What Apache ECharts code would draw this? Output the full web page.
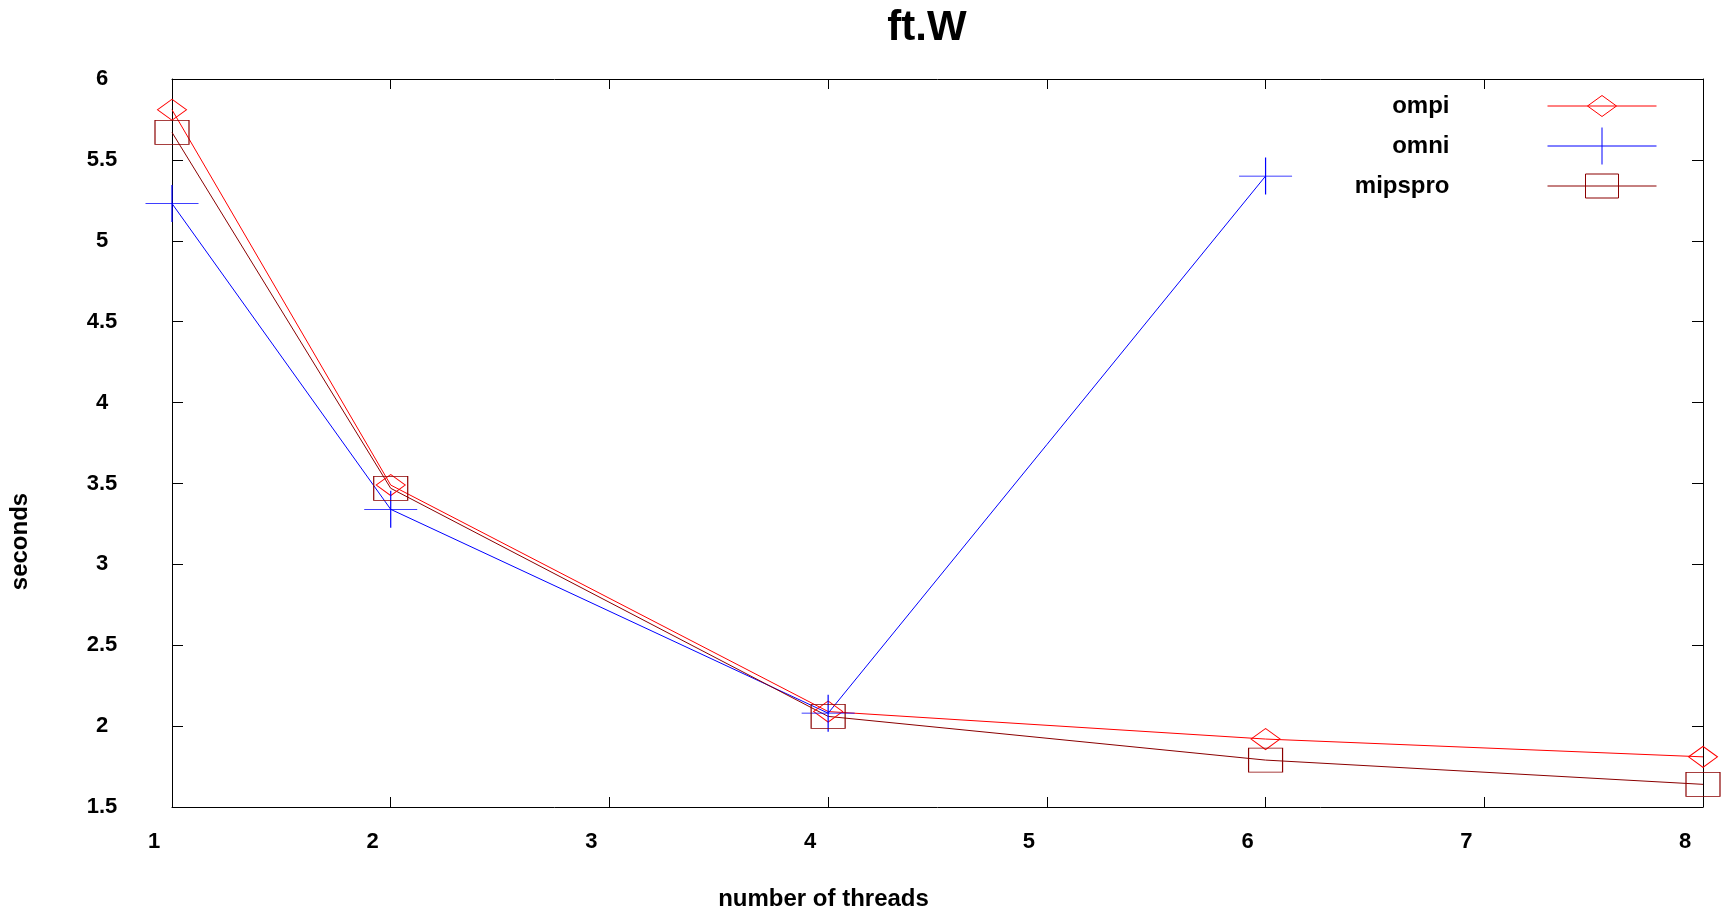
<!DOCTYPE html>
<html>
<head>
<meta charset="utf-8">
<script src="https://cdn.jsdelivr.net/npm/echarts@6/dist/echarts.min.js"></script>
<style>
html,body{margin:0;padding:0;background:#fff;}
#chart{width:1731px;height:916px;}
</style>
</head>
<body>
<div id="chart"></div>
<script>
// ---- data ----
const threads = [1, 2, 4, 6, 8];
const ompi = [5.81, 3.49, 2.09, 1.92, 1.81];
const omniThreads = [1, 2, 4, 6];
const omni = [5.23, 3.34, 2.08, 5.40];
const mipspro = [5.67, 3.47, 2.06, 1.79, 1.64];
const seriesNames = ['ompi', 'omni', 'mipspro'];
const titleText = 'ft.W';
const xName = 'number of threads';
const yName = 'seconds';

const FONT = 'Liberation Sans';
const pair = (xs, ys) => xs.map((x, i) => [x, ys[i]]);

const colors = { ompi: '#ff0000', omni: '#0000ff', mipspro: '#8b0000' };
const plusPath = 'path://M0,5L10,5M5,0L5,10';

const legendIcons = {
  ompi: 'path://M0,18.5L109,18.5M40,18.5L54.5,8L69,18.5L54.5,29ZM0,0M109,37',
  omni: 'path://M0,18.5L109,18.5M54.5,0L54.5,37',
  mipspro: 'path://M0,18.5L109,18.5M38,6.5L71,6.5L71,30.5L38,30.5ZM0,0M109,37'
};

function mkSeries(name, data, symbol, size) {
  return {
    name: name,
    type: 'line',
    data: data,
    clip: false,
    symbol: symbol,
    symbolSize: size,
    symbolKeepAspect: false,
    showAllSymbol: true,
    lineStyle: { color: colors[name], width: 1 },
    itemStyle: { color: 'transparent', borderColor: colors[name], borderWidth: 1 },
    emphasis: { disabled: true },
    silent: true
  };
}

const axisLineStyle = { show: true, lineStyle: { color: '#000', width: 1 } };

const option = {
  animation: false,
  backgroundColor: '#fff',
  title: {
    text: titleText,
    left: 922,
    top: 2,
    textAlign: 'center',
    textStyle: { fontFamily: FONT, fontWeight: 'bold', fontSize: 42, color: '#000' }
  },
  legend: {
    right: 69,
    top: 82,
    orient: 'vertical',
    align: 'right',
    itemWidth: 109,
    itemHeight: 37,
    itemGap: 2,
    selectedMode: false,
    textStyle: { fontFamily: FONT, fontWeight: 'bold', fontSize: 24, color: '#000', padding: [0, 93, 6, 0] },
    data: seriesNames.map(n => ({
      name: n,
      icon: legendIcons[n],
      itemStyle: { color: 'transparent', borderColor: colors[n], borderWidth: 1 }
    }))
  },
  grid: { left: 171, right: 28, top: 79, bottom: 104, containLabel: false },
  xAxis: [
    {
      type: 'value', min: 1, max: 8, interval: 1, position: 'bottom',
      name: xName, nameLocation: 'middle', nameGap: 80,
      nameTextStyle: { fontFamily: FONT, fontWeight: 'bold', fontSize: 24, color: '#000', padding: [0, 228, 0, 0] },
      axisLine: axisLineStyle,
      axisTick: { show: true, inside: true, length: 10, lineStyle: { color: '#000' } },
      axisLabel: { fontFamily: FONT, fontWeight: 'bold', fontSize: 22, color: '#000', margin: 24, padding: [0, 36, 0, 0] },
      splitLine: { show: false }
    },
    {
      type: 'value', min: 1, max: 8, interval: 1, position: 'top',
      axisLine: axisLineStyle,
      axisTick: { show: true, inside: true, length: 10, lineStyle: { color: '#000' } },
      axisLabel: { show: false },
      splitLine: { show: false }
    }
  ],
  yAxis: [
    {
      type: 'value', min: 1.5, max: 6, interval: 0.5, position: 'left',
      name: yName, nameLocation: 'middle', nameGap: 140,
      nameTextStyle: { fontFamily: FONT, fontWeight: 'bold', fontSize: 24, color: '#000', padding: [0, 197, 0, 0] },
      axisLine: axisLineStyle,
      axisTick: { show: true, inside: true, length: 11, lineStyle: { color: '#000' } },
      axisLabel: { fontFamily: FONT, fontWeight: 'bold', fontSize: 22, color: '#000', margin: 70, align: 'center' },
      splitLine: { show: false }
    },
    {
      type: 'value', min: 1.5, max: 6, interval: 0.5, position: 'right',
      axisLine: axisLineStyle,
      axisTick: { show: true, inside: true, length: 11, lineStyle: { color: '#000' } },
      axisLabel: { show: false },
      splitLine: { show: false }
    }
  ],
  series: [
    mkSeries('ompi', pair(threads, ompi), 'diamond', [29, 21]),
    mkSeries('omni', pair(omniThreads, omni), plusPath, [53, 37]),
    mkSeries('mipspro', pair(threads, mipspro), 'rect', [34, 24])
  ]
};

const chart = echarts.init(document.getElementById('chart'), null, { renderer: 'canvas' });
chart.setOption(option);
</script>
</body>
</html>
